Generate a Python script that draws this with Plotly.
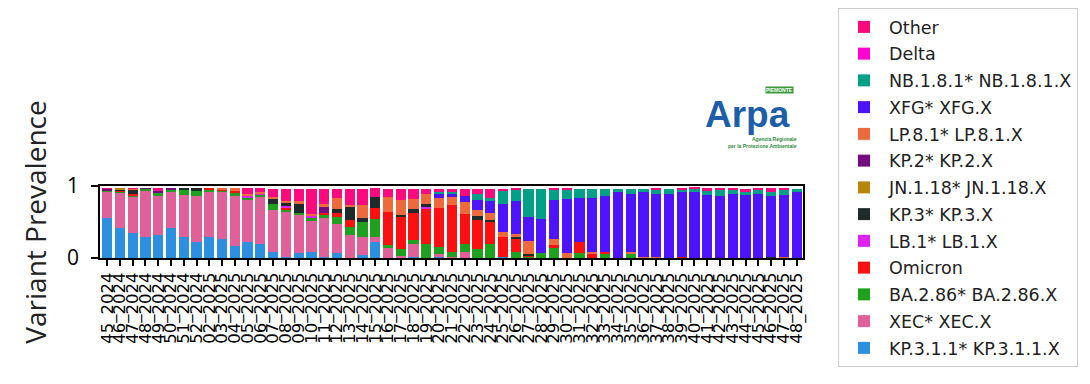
import plotly.graph_objects as go

weeks = ["45_2024", "46_2024", "47_2024", "48_2024", "49_2024", "50_2024", "51_2024", "52_2024"] + \
        [f"{w:02d}_2025" for w in range(2, 49)]

variants = ["KP.3.1.1* KP.3.1.1.X", "XEC* XEC.X", "BA.2.86* BA.2.86.X", "Omicron", "LB.1* LB.1.X",
            "KP.3* KP.3.X", "JN.1.18* JN.1.18.X", "KP.2* KP.2.X", "LP.8.1* LP.8.1.X", "XFG* XFG.X",
            "NB.1.8.1* NB.1.8.1.X", "Delta", "Other"]

colors = ["#2d8fe0", "#e0609a", "#1fa01f", "#ff1010", "#dd22ff", "#1f2a2a", "#b8860b", "#760a80",
          "#ee6a3c", "#4f14ff", "#00a088", "#ff00d0", "#ff0a7e"]

kp311 = [0.55, 0.42, 0.345, 0.295, 0.32, 0.42, 0.295, 0.22, 0.295, 0.27, 0.17, 0.22, 0.19, 0.09, 0.02,
         0.065, 0.09, 0.02, 0.065, 0.0, 0.04, 0.22, 0.0, 0.01, 0.01, 0.0, 0.01, 0.01, 0.0, 0.0,
         0.0, 0.01, 0.0, 0.0, 0.0, 0.0, 0.0, 0.0, 0.0, 0.0, 0.0, 0.0, 0.0, 0.0, 0.0,
         0.0, 0.0, 0.0, 0.0, 0.0, 0.0, 0.0, 0.0, 0.0, 0.0]
xec = [0.36, 0.49, 0.515, 0.645, 0.54, 0.49, 0.585, 0.64, 0.615, 0.64, 0.69, 0.59, 0.67, 0.57, 0.62,
       0.545, 0.43, 0.53, 0.405, 0.32, 0.255, 0.075, 0.14, 0.02, 0.19, 0.0, 0.04, 0.01, 0.09, 0.0,
       0.0, 0.0, 0.0, 0.0, 0.0, 0.0, 0.0, 0.0, 0.0, 0.0, 0.0, 0.0, 0.0, 0.0, 0.0,
       0.0, 0.0, 0.0, 0.0, 0.0, 0.0, 0.0, 0.0, 0.0, 0.0]
ba286 = [0.03, 0.01, 0.01, 0.02, 0.045, 0.045, 0.07, 0.07, 0.045, 0.03, 0.045, 0.035, 0.02, 0.09, 0.02,
         0.02, 0.03, 0.045, 0.10, 0.105, 0.21, 0.25, 0.045, 0.10, 0.045, 0.19, 0.10, 0.07, 0.10, 0.125,
         0.19, 0.0, 0.09, 0.02, 0.065, 0.14, 0.0, 0.065, 0.0, 0.05, 0.0, 0.05, 0.0, 0.0, 0.0,
         0.0, 0.0, 0.0, 0.0, 0.0, 0.0, 0.0, 0.0, 0.0, 0.0]
omicron = [0.0, 0.02, 0.015, 0.0, 0.0, 0.0, 0.0, 0.0, 0.015, 0.015, 0.02, 0.0, 0.0, 0.0, 0.045,
           0.0, 0.0, 0.035, 0.06, 0.10, 0.0, 0.15, 0.46, 0.45, 0.38, 0.50, 0.54, 0.645, 0.415, 0.40,
           0.31, 0.28, 0.18, 0.015, 0.0, 0.045, 0.0, 0.16, 0.05, 0.035, 0.0, 0.0, 0.0, 0.0, 0.0,
           0.02, 0.0, 0.0, 0.0, 0.0, 0.0, 0.0, 0.0, 0.0, 0.0]
lb1 = [0.0, 0.0, 0.0, 0.0, 0.01, 0.0, 0.0, 0.0, 0.0, 0.0, 0.0, 0.025, 0.02, 0.0, 0.02,
       0.0, 0.035, 0.0, 0.0, 0.0, 0.0, 0.0, 0.0, 0.0, 0.0, 0.015, 0.0, 0.0, 0.0, 0.0,
       0.0, 0.0, 0.0, 0.0, 0.0, 0.0, 0.0, 0.0, 0.0, 0.0, 0.0, 0.0, 0.0, 0.0, 0.0,
       0.0, 0.0, 0.0, 0.0, 0.0, 0.0, 0.0, 0.0, 0.0, 0.0]
kp3 = [0.0, 0.01, 0.06, 0.0, 0.0, 0.0, 0.02, 0.04, 0.0, 0.0, 0.0, 0.0, 0.0, 0.065, 0.045,
       0.12, 0.0, 0.0, 0.045, 0.18, 0.055, 0.15, 0.0, 0.02, 0.05, 0.045, 0.0, 0.0, 0.0, 0.06,
       0.03, 0.0, 0.02, 0.02, 0.0, 0.0, 0.0, 0.0, 0.0, 0.0, 0.0, 0.0, 0.0, 0.0, 0.0,
       0.0, 0.0, 0.0, 0.0, 0.0, 0.0, 0.0, 0.01, 0.0, 0.0]
jn118 = [0.0, 0.02, 0.0, 0.0, 0.0, 0.0, 0.0, 0.0, 0.0, 0.0, 0.0, 0.0, 0.0, 0.0, 0.0,
         0.0, 0.0, 0.0, 0.0, 0.0, 0.0, 0.0, 0.0, 0.0, 0.0, 0.0, 0.0, 0.0, 0.0, 0.0,
         0.0, 0.0, 0.0, 0.0, 0.0, 0.0, 0.0, 0.0, 0.0, 0.0, 0.0, 0.0, 0.0, 0.0, 0.0,
         0.0, 0.0, 0.0, 0.0, 0.0, 0.0, 0.0, 0.0, 0.0, 0.0]
kp2 = [0.02, 0.0, 0.0, 0.01, 0.02, 0.015, 0.0, 0.0, 0.0, 0.0, 0.0, 0.0, 0.0, 0.0, 0.0,
       0.0, 0.0, 0.08, 0.0, 0.0, 0.0, 0.0, 0.0, 0.0, 0.0, 0.0, 0.0, 0.0, 0.0, 0.0,
       0.0, 0.0, 0.0, 0.0, 0.0, 0.0, 0.0, 0.0, 0.0, 0.0, 0.0, 0.0, 0.0, 0.0, 0.0,
       0.0, 0.0, 0.0, 0.0, 0.0, 0.0, 0.0, 0.0, 0.0, 0.0]
lp81 = [0.0, 0.0, 0.015, 0.0, 0.0, 0.0, 0.0, 0.0, 0.0, 0.015, 0.045, 0.02, 0.01, 0.035, 0.02,
        0.04, 0.03, 0.045, 0.16, 0.03, 0.175, 0.0, 0.20, 0.20, 0.14, 0.14, 0.14, 0.115, 0.175, 0.08,
        0.09, 0.07, 0.045, 0.18, 0.0, 0.08, 0.065, 0.0, 0.03, 0.0, 0.0, 0.03, 0.02, 0.02, 0.0,
        0.0, 0.0, 0.0, 0.0, 0.0, 0.0, 0.0, 0.0, 0.015, 0.0]
xfg = [0.0] * 26 + [0.07, 0.045, 0.08, 0.14, 0.175, 0.39, 0.45, 0.34, 0.48, 0.545, 0.75, 0.61, 0.755,
                    0.775, 0.91, 0.815, 0.89, 0.875, 0.895, 0.9, 0.915, 0.88, 0.86, 0.895, 0.88,
                    0.895, 0.845, 0.86, 0.915]
nb181 = [0.0] * 26 + [0.02, 0.02, 0.0, 0.09, 0.045, 0.175, 0.16, 0.385, 0.415, 0.14, 0.14, 0.125, 0.125,
                      0.10, 0.055, 0.07, 0.055, 0.045, 0.07, 0.035, 0.045, 0.05, 0.09, 0.06, 0.035,
                      0.06, 0.065, 0.075, 0.045]
delta = [0.0] * 55
other = [0.01, 0.0, 0.01, 0.0, 0.035, 0.0, 0.0, 0.0, 0.0, 0.0, 0.0, 0.08, 0.06, 0.11, 0.17,
         0.17, 0.345, 0.205, 0.125, 0.225, 0.225, 0.125, 0.115, 0.16, 0.145, 0.07, 0.04, 0.045, 0.10, 0.065,
         0.12, 0.035, 0.015, 0.0, 0.0, 0.01, 0.01, 0.0, 0.0, 0.0, 0.0, 0.0, 0.0, 0.03, 0.0,
         0.01, 0.015, 0.04, 0.02, 0.015, 0.05, 0.015, 0.05, 0.02, 0.0]

series = [kp311, xec, ba286, omicron, lb1, kp3, jn118, kp2, lp81, xfg, nb181, delta, other]

W, H = 1090, 384
L, R, T, B = 100, 803, 185.5, 258.5

fig = go.Figure()
n = len(variants)
for i, (name, col, vals) in enumerate(zip(variants, colors, series)):
    fig.add_trace(go.Bar(x=weeks, y=vals, name=name, marker=dict(color=col, line=dict(width=0)),
                         legendgroup=name, legendrank=n - i))

fig.update_layout(
    width=W, height=H,
    margin=dict(l=L, r=W - R, t=T, b=H - B, pad=0),
    barmode="stack", bargap=0.2,
    plot_bgcolor="white", paper_bgcolor="white",
    font=dict(family="DejaVu Sans", color="black"),
    showlegend=True,
    legend=dict(xref="container", yref="container", x=838 / W, y=1 - 8 / H,
                xanchor="left", yanchor="top", traceorder="grouped",
                tracegroupgap=1, bordercolor="#cccccc", borderwidth=1, bgcolor="white",
                maxheight=0.99,
                font=dict(family="DejaVu Sans", size=17.5, color="#222"), itemwidth=40),
    xaxis=dict(type="category", categoryorder="array", categoryarray=weeks,
               tickmode="array", tickvals=weeks, ticktext=weeks,
               range=[-0.56, len(weeks) - 0.5], tickangle=-90, ticks="outside", ticklen=6,
               tickwidth=1.5, tickcolor="black", showline=True, linecolor="black", linewidth=1.8,
               mirror=True, tickfont=dict(family="DejaVu Sans", size=16.5, color="black"),
               showgrid=False),
    yaxis=dict(range=[0, 1], tickvals=[0, 1], ticktext=["0", "1"], ticks="outside", ticklen=7,
               tickwidth=1.5, tickcolor="black", showline=True, linecolor="black", linewidth=1.8,
               mirror=True, showgrid=False, zeroline=False, ticklabelstandoff=8,
               tickfont=dict(family="Open Sans", size=21, color="black"),
               title=dict(text="Variant Prevalence", font=dict(family="Open Sans", size=28, color="#222"),
                          standoff=12)),
)

def px_x(px):
    return (px - L) / (R - L)

def px_y(py):
    return (B - py) / (B - T)

# ARPA logo (text recreation)
fig.add_annotation(x=px_x(747), y=px_y(113), xref="paper", yref="paper", text="<b>Arpa</b>",
                   xanchor="center", yanchor="middle",
                   showarrow=False, font=dict(family="Liberation Sans", size=37, color="#1c5ea8"))
fig.add_annotation(x=px_x(779), y=px_y(88), xref="paper", yref="paper", text="<b>PIEMONTE</b>",
                   xanchor="center", yanchor="middle",
                   showarrow=False, bgcolor="#3a9a3a", font=dict(family="Liberation Sans", size=5, color="white"),
                   borderpad=0)
fig.add_annotation(x=px_x(762), y=px_y(141), xref="paper", yref="paper",
                   text="<b>Agenzia Regionale<br>per la Protezione Ambientale</b>",
                   showarrow=False, align="right", xanchor="center", yanchor="middle",
                   font=dict(family="Liberation Sans", size=5, color="#2e8b3a"))

fig.write_html("out.html")
